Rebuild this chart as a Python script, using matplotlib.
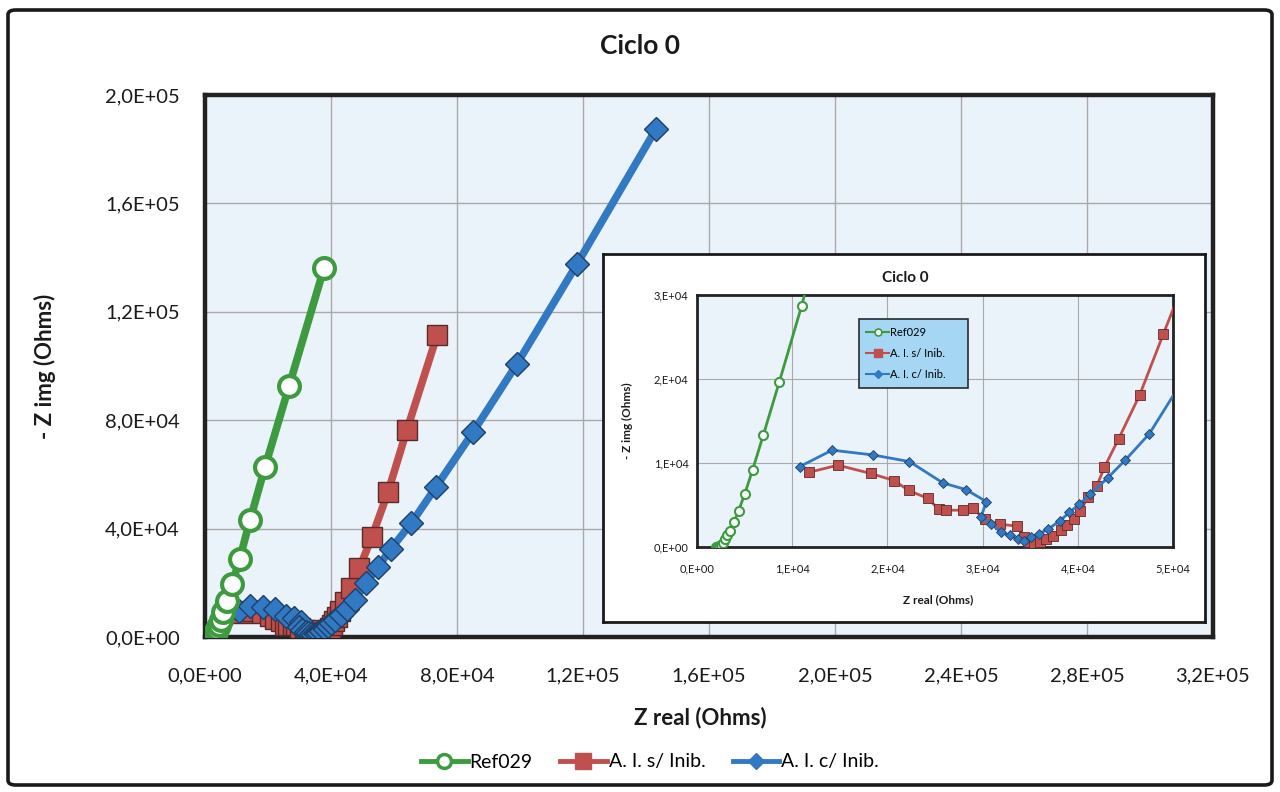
import matplotlib
matplotlib.use("Agg")
import matplotlib.pyplot as plt
from matplotlib.patches import FancyBboxPatch
from matplotlib.lines import Line2D

plt.rcParams['font.family'] = ['Lato', 'DejaVu Sans']

# Impedance data (Nyquist): Z real and -Z img, in Ohms
ref_zreal = [2000, 2100, 2300, 2500, 2700, 2900, 3120, 3440, 3880, 4360, 5000,
             5840, 6960, 8640, 11000, 14300, 19050, 26700, 37800]
ref_zimg = [0, 30, 100, 250, 500, 900, 1370, 1960, 2930, 4300, 6260,
            9190, 13300, 19630, 28740, 43200, 62700, 92600, 136200]

sin_zreal = [11800, 14800, 18240, 20720, 22240, 24240, 25400, 26200, 27920, 29000,
             30200, 31800, 33600, 34300, 34800, 35400, 36000, 36700, 37400, 38200,
             38900, 39600, 40200, 41100, 42000, 42800, 44300, 46500, 49000, 53000,
             58100, 64100, 73700]
sin_zimg = [8900, 9740, 8760, 7900, 6730, 5790, 4500, 4380, 4380, 4610,
            3300, 2700, 2500, 1200, 600, 400, 600, 900, 1300, 2000,
            2600, 3300, 4300, 5900, 7300, 9500, 12900, 18100, 25400, 36900,
            53500, 76400, 111400]

com_zreal = [10800, 14200, 18520, 22320, 25840, 28240, 30400, 29840, 30920, 31920,
             32840, 33720, 34400, 35120, 35920, 36920, 38120, 39120, 40120, 41320,
             43120, 45000, 47520, 51000, 55000, 59000, 65500, 73300, 85100, 99000,
             118100, 143200]
com_zimg = [9580, 11530, 10950, 10170, 7620, 6840, 5400, 3600, 2740, 1760,
            1370, 980, 700, 1170, 1560, 2150, 3130, 4110, 5080, 6260,
            8210, 10360, 13490, 19800, 26000, 32500, 42000, 55300, 75600, 100700,
            137600, 187500]

series_names = ["Ref029", "A. I. s/ Inib.", "A. I. c/ Inib."]

main_xticks = [0, 40000, 80000, 120000, 160000, 200000, 240000, 280000, 320000]
main_xlabels = ["0,0E+00", "4,0E+04", "8,0E+04", "1,2E+05", "1,6E+05",
                "2,0E+05", "2,4E+05", "2,8E+05", "3,2E+05"]
main_yticks = [0, 40000, 80000, 120000, 160000, 200000]
main_ylabels = ["0,0E+00", "4,0E+04", "8,0E+04", "1,2E+05", "1,6E+05", "2,0E+05"]

ins_xticks = [0, 10000, 20000, 30000, 40000, 50000]
ins_xlabels = ["0,E+00", "1,E+04", "2,E+04", "3,E+04", "4,E+04", "5,E+04"]
ins_yticks = [0, 10000, 20000, 30000]
ins_ylabels = ["0,E+00", "1,E+04", "2,E+04", "3,E+04"]

GREEN = "#3d9a3f"
RED = "#c0504d"
RED_EDGE = "#5a2a28"
BLUE = "#3179c2"
BLUE_EDGE = "#1d3f68"
PLOT_BG = "#ebf3fa"
GRID = "#a9a9a9"

fig = plt.figure(figsize=(12.8, 7.92), dpi=100)
fig.patch.set_facecolor("white")

# outer chart border
fig.patches.append(FancyBboxPatch((8 / 1280, 7 / 792), 1264 / 1280, 775 / 792,
                                  boxstyle="round,pad=0,rounding_size=0.006",
                                  transform=fig.transFigure, facecolor="none",
                                  edgecolor="#1a1a1a", linewidth=2.6, zorder=0))

# ---------- main chart ----------
ax = fig.add_axes([205 / 1280, 1 - 637 / 792, 1008 / 1280, 542 / 792])
ax.set_facecolor(PLOT_BG)
ax.set_xlim(0, 320000)
ax.set_ylim(0, 200000)
ax.set_xticks(main_xticks)
ax.set_xticklabels(main_xlabels)
ax.set_yticks(main_yticks)
ax.set_yticklabels(main_ylabels)
ax.tick_params(axis="x", length=0, pad=22, labelsize=14.5, colors="#1a1a1a")
ax.tick_params(axis="y", length=0, pad=18, labelsize=14.5, colors="#1a1a1a")
ax.grid(True, color=GRID, linewidth=1.0)
ax.set_axisbelow(True)
for sp in ax.spines.values():
    sp.set_linewidth(3.2)
    sp.set_color("#222222")

ax.plot(sin_zreal, sin_zimg, color=RED, linewidth=5.5, marker="s", markersize=14,
        markerfacecolor=RED, markeredgecolor=RED_EDGE, markeredgewidth=1.0, zorder=3)
ax.plot(com_zreal, com_zimg, color=BLUE, linewidth=5.5, marker="D", markersize=12,
        markerfacecolor=BLUE, markeredgecolor=BLUE_EDGE, markeredgewidth=1.0, zorder=4)
ax.plot(ref_zreal, ref_zimg, color=GREEN, linewidth=5.5, marker="o", markersize=15,
        markerfacecolor="white", markeredgecolor=GREEN, markeredgewidth=3.0, zorder=5)

fig.text(640 / 1280, 1 - 46 / 792, "Ciclo 0", ha="center", va="center",
         fontsize=19, fontweight="bold", color="#1a1a1a")
fig.text(700 / 1280, 1 - 718 / 792, "Z real (Ohms)", ha="center", va="center",
         fontsize=16, fontweight="bold", color="#1a1a1a")
fig.text(45 / 1280, 1 - 366 / 792, "- Z img (Ohms)", ha="center", va="center",
         rotation=90, fontsize=16, fontweight="bold", color="#1a1a1a")

handles = [
    Line2D([], [], color=GREEN, linewidth=3.5, marker="o", markersize=10,
           markerfacecolor="white", markeredgecolor=GREEN, markeredgewidth=2.5),
    Line2D([], [], color=RED, linewidth=3.5, marker="s", markersize=11,
           markerfacecolor=RED, markeredgecolor=RED),
    Line2D([], [], color=BLUE, linewidth=3.5, marker="D", markersize=8,
           markerfacecolor=BLUE, markeredgecolor=BLUE),
]
fig.legend(handles, series_names, loc="center", bbox_to_anchor=(650 / 1280, 1 - 762 / 792),
           ncol=3, frameon=False, fontsize=14, handlelength=2.4, handletextpad=0.1,
           columnspacing=1.4)

# ---------- inset chart ----------
frame = fig.add_axes([603 / 1280, 1 - 622 / 792, 602 / 1280, 368 / 792])
frame.set_xticks([])
frame.set_yticks([])
frame.set_facecolor("white")
for sp in frame.spines.values():
    sp.set_linewidth(2.0)
    sp.set_color("#1a1a1a")
frame.set_zorder(10)

ins = fig.add_axes([697 / 1280, 1 - 547 / 792, 476 / 1280, 252 / 792])
ins.set_zorder(11)
ins.set_facecolor(PLOT_BG)
ins.set_xlim(0, 50000)
ins.set_ylim(0, 30000)
ins.set_xticks(ins_xticks)
ins.set_xticklabels(ins_xlabels)
ins.set_yticks(ins_yticks)
ins.set_yticklabels(ins_ylabels)
ins.tick_params(axis="both", length=0, labelsize=8, colors="#1a1a1a")
ins.tick_params(axis="x", pad=12)
ins.tick_params(axis="y", pad=6)
ins.grid(True, color=GRID, linewidth=0.8)
ins.set_axisbelow(True)
for sp in ins.spines.values():
    sp.set_linewidth(2.0)
    sp.set_color("#222222")

ins.plot(sin_zreal, sin_zimg, color=RED, linewidth=2.0, marker="s", markersize=6.5,
         markerfacecolor=RED, markeredgecolor=RED_EDGE, markeredgewidth=0.6, zorder=3)
ins.plot(com_zreal, com_zimg, color=BLUE, linewidth=2.0, marker="D", markersize=5.5,
         markerfacecolor=BLUE, markeredgecolor=BLUE_EDGE, markeredgewidth=0.6, zorder=4)
ins.plot(ref_zreal, ref_zimg, color=GREEN, linewidth=2.0, marker="o", markersize=6.5,
         markerfacecolor="white", markeredgecolor=GREEN, markeredgewidth=1.5, zorder=5)

fig.text(905 / 1280, 1 - 278 / 792, "Ciclo 0", ha="center", va="center",
         fontsize=11, fontweight="bold", color="#1a1a1a", zorder=12)
fig.text(938 / 1280, 1 - 600 / 792, "Z real (Ohms)", ha="center", va="center",
         fontsize=8.5, fontweight="bold", color="#1a1a1a", zorder=12)
fig.text(627 / 1280, 1 - 421 / 792, "- Z img (Ohms)", ha="center", va="center",
         rotation=90, fontsize=8.5, fontweight="bold", color="#1a1a1a", zorder=12)

ins_handles = [
    Line2D([], [], color=GREEN, linewidth=1.5, marker="o", markersize=5,
           markerfacecolor="white", markeredgecolor=GREEN, markeredgewidth=1.2),
    Line2D([], [], color=RED, linewidth=1.5, marker="s", markersize=5.5,
           markerfacecolor=RED, markeredgecolor=RED),
    Line2D([], [], color=BLUE, linewidth=1.5, marker="D", markersize=4.5,
           markerfacecolor=BLUE, markeredgecolor=BLUE),
]
leg = ins.legend(ins_handles, series_names, loc="upper left",
                 bbox_to_anchor=(0.328, 0.623, 0.254, 0.302), mode="expand",
                 fontsize=8, handlelength=2.0, handletextpad=0.1,
                 labelspacing=0.9, borderpad=0.7, fancybox=False,
                 framealpha=1.0, facecolor="#a5d6f4", edgecolor="#2a2a2a")
leg.get_frame().set_linewidth(1.2)

fig.savefig("out.png", dpi=100, facecolor="white")
